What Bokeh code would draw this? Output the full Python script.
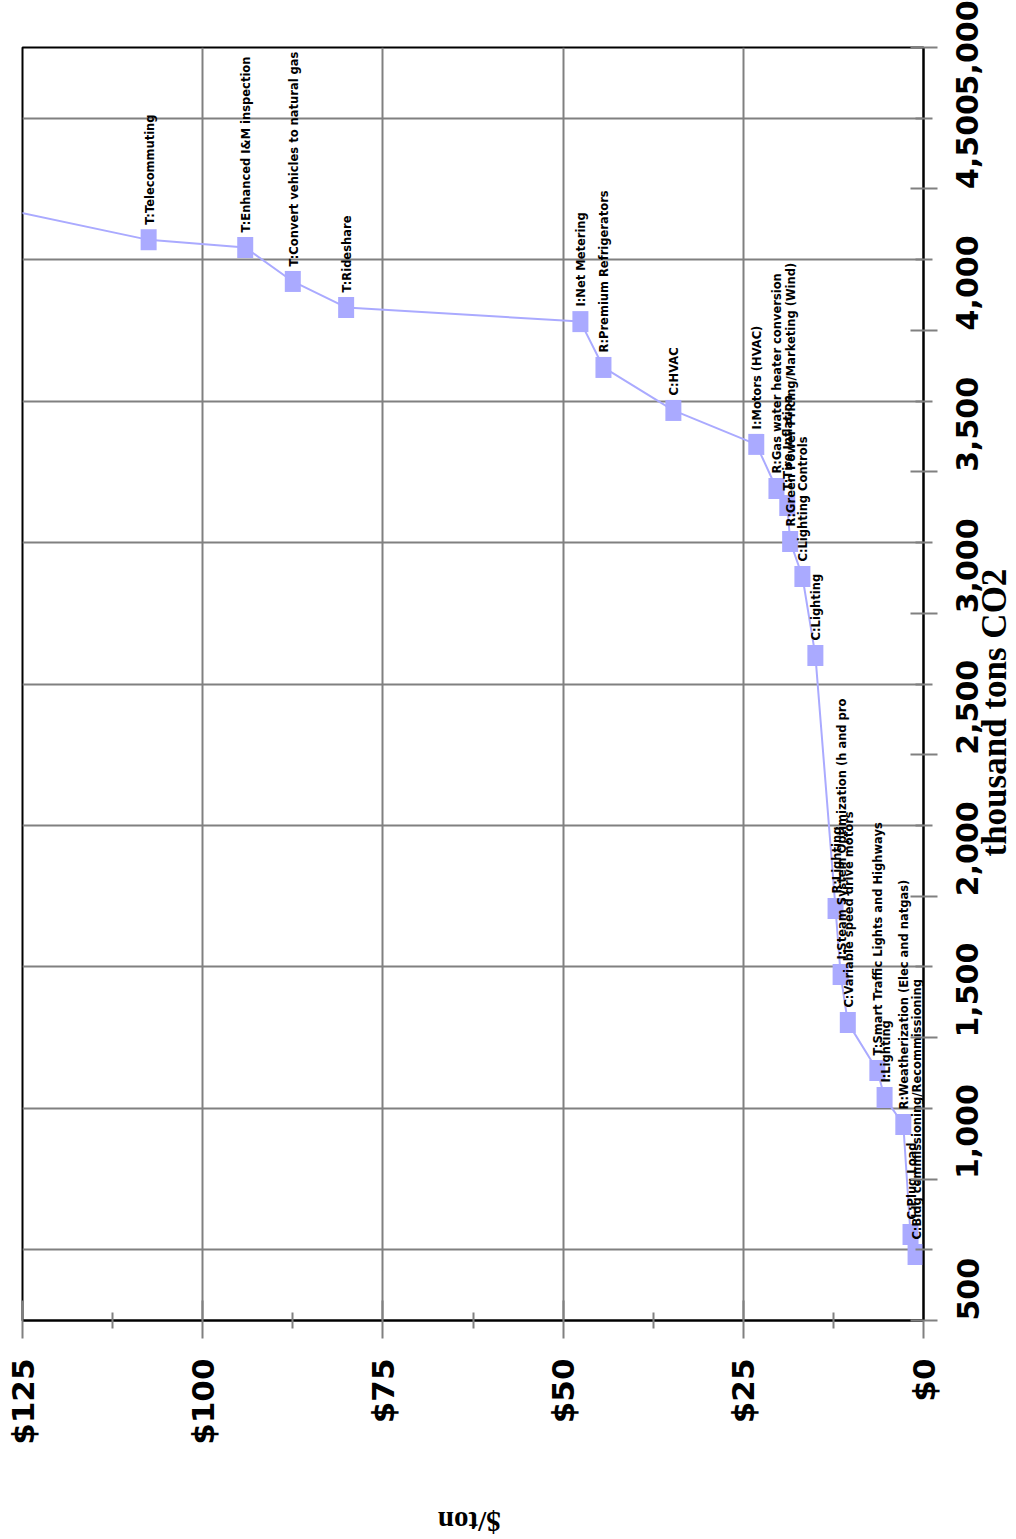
import math
from bokeh.plotting import figure
from bokeh.models import Range1d, FixedTicker, NumeralTickFormatter, ColumnDataSource, Label
from bokeh.embed import file_html
from bokeh.resources import INLINE
from bokeh.core.properties import value

# ---- data ----
measures = [
    "C:Bldg commissioning/Recommissioning",
    "C:Plug Load",
    "R:Weatherization (Elec and natgas)",
    "I:Lighting",
    "T:Smart Traffic Lights and Highways",
    "C:Variable speed drive motors",
    "I:Steam System Optimization (h and pro",
    "R:Lighting",
    "C:Lighting",
    "C:Lighting Controls",
    "R:Green Power Pricing/Marketing (Wind)",
    "T:Tire Inflation",
    "R:Gas water heater conversion",
    "I:Motors (HVAC)",
    "C:HVAC",
    "R:Premium Refrigerators",
    "I:Net Metering",
    "T:Rideshare",
    "T:Convert vehicles to natural gas",
    "T:Enhanced I&M inspection",
    "T:Telecommuting",
    "",
]
cost_per_ton = [1.1, 1.8, 2.8, 5.4, 6.4, 10.5, 11.5, 12.2, 15.0, 16.8, 18.5, 18.9,
                20.4, 23.2, 34.7, 44.4, 47.6, 80.1, 87.5, 94.1, 107.5, 140.0]
cumulative_kt = [733, 804, 1193, 1288, 1384, 1553, 1723, 1956, 2851, 3130, 3254, 3381,
                 3441, 3597, 3717, 3869, 4031, 4081, 4173, 4293, 4320, 4495]

cost_ticks = [0, 25, 50, 75, 100, 125]
cost_minor = [12.5, 37.5, 62.5, 87.5, 112.5]
kt_ticks = [500, 1000, 1500, 2000, 2500, 3000, 3500, 4000, 4500, 5000]
kt_minor = [750, 1250, 1750, 2250, 2750, 3250, 3750, 4250, 4750]

x_title = "$/ton"
y_title = "thousand tons CO2"

SERIES = "#AAAAFF"
GRID = "#808080"

src = ColumnDataSource(dict(cost=cost_per_ton, kt=cumulative_kt, label=measures))

p = figure(width=1016, height=1539, frame_width=901, frame_height=1273,
           output_backend="svg", toolbar_location=None,
           x_range=Range1d(125, 0), y_range=Range1d(500, 5000),
           x_axis_location="below", y_axis_location="right",
           min_border_left=22, min_border_top=47, min_border_right=10, min_border_bottom=219)
p.background_fill_color = "white"
p.border_fill_color = "white"
p.outline_line_color = "black"
p.outline_line_width = 2

# axes
xa = p.xaxis[0]
xa.ticker = FixedTicker(ticks=cost_ticks, minor_ticks=cost_minor)
xa.formatter = NumeralTickFormatter(format="$0")
ya = p.yaxis[0]
ya.ticker = FixedTicker(ticks=kt_ticks, minor_ticks=kt_minor)
ya.formatter = NumeralTickFormatter(format="0,0")
for ax in (xa, ya):
    ax.major_label_orientation = math.pi / 2
    ax.major_label_text_font = "DejaVu Sans"
    ax.major_label_text_font_style = "bold"
    ax.major_label_text_color = "black"
    ax.axis_line_color = "black"
    ax.axis_line_width = 2
    ax.major_tick_line_color = GRID
    ax.major_tick_line_width = 2
    ax.minor_tick_line_color = GRID
    ax.minor_tick_line_width = 2
xa.major_label_text_font_size = "31px"
xa.major_tick_in = 20
xa.major_tick_out = 18
xa.minor_tick_in = 8
xa.minor_tick_out = 8
xa.major_label_standoff = 20

ya.major_label_text_font_size = "30px"
ya.major_tick_in = 13
ya.major_tick_out = 14
ya.minor_tick_in = 8
ya.minor_tick_out = 9
ya.major_label_standoff = 30

# grids
p.xgrid.ticker = FixedTicker(ticks=cost_ticks)
p.ygrid.ticker = FixedTicker(ticks=kt_minor)
for g in (p.xgrid[0], p.ygrid[0]):
    g.grid_line_color = GRID
    g.grid_line_width = 2

# series
p.line(x="cost", y="kt", source=src, line_color=SERIES, line_width=2)
p.rect(x="cost", y="kt", source=src, width=16, height=21,
       width_units="screen", height_units="screen",
       fill_color=SERIES, line_color=None)
p.text(x="cost", y="kt", text="label", source=src, angle=math.pi / 2,
       x_offset=1, y_offset=-15, text_align="left", text_baseline="middle",
       text_font=value("DejaVu Sans"), text_font_style="bold",
       text_font_size="11.5px", text_color="black")

# axis titles, placed in the side panels (outside the frame)
p.add_layout(Label(x=-9.9, y=2649, text=y_title, angle=math.pi / 2,
                   text_align="center", text_baseline="middle",
                   text_font="Liberation Serif", text_font_style="bold",
                   text_font_size="35px", text_color="black"), "right")
p.add_layout(Label(x=63.0, y=-214, text=x_title, angle=math.pi,
                   text_align="center", text_baseline="middle",
                   text_font="Liberation Serif", text_font_style="bold",
                   text_font_size="29px", text_color="black"), "below")

open("out.html", "w").write(file_html(p, INLINE))
